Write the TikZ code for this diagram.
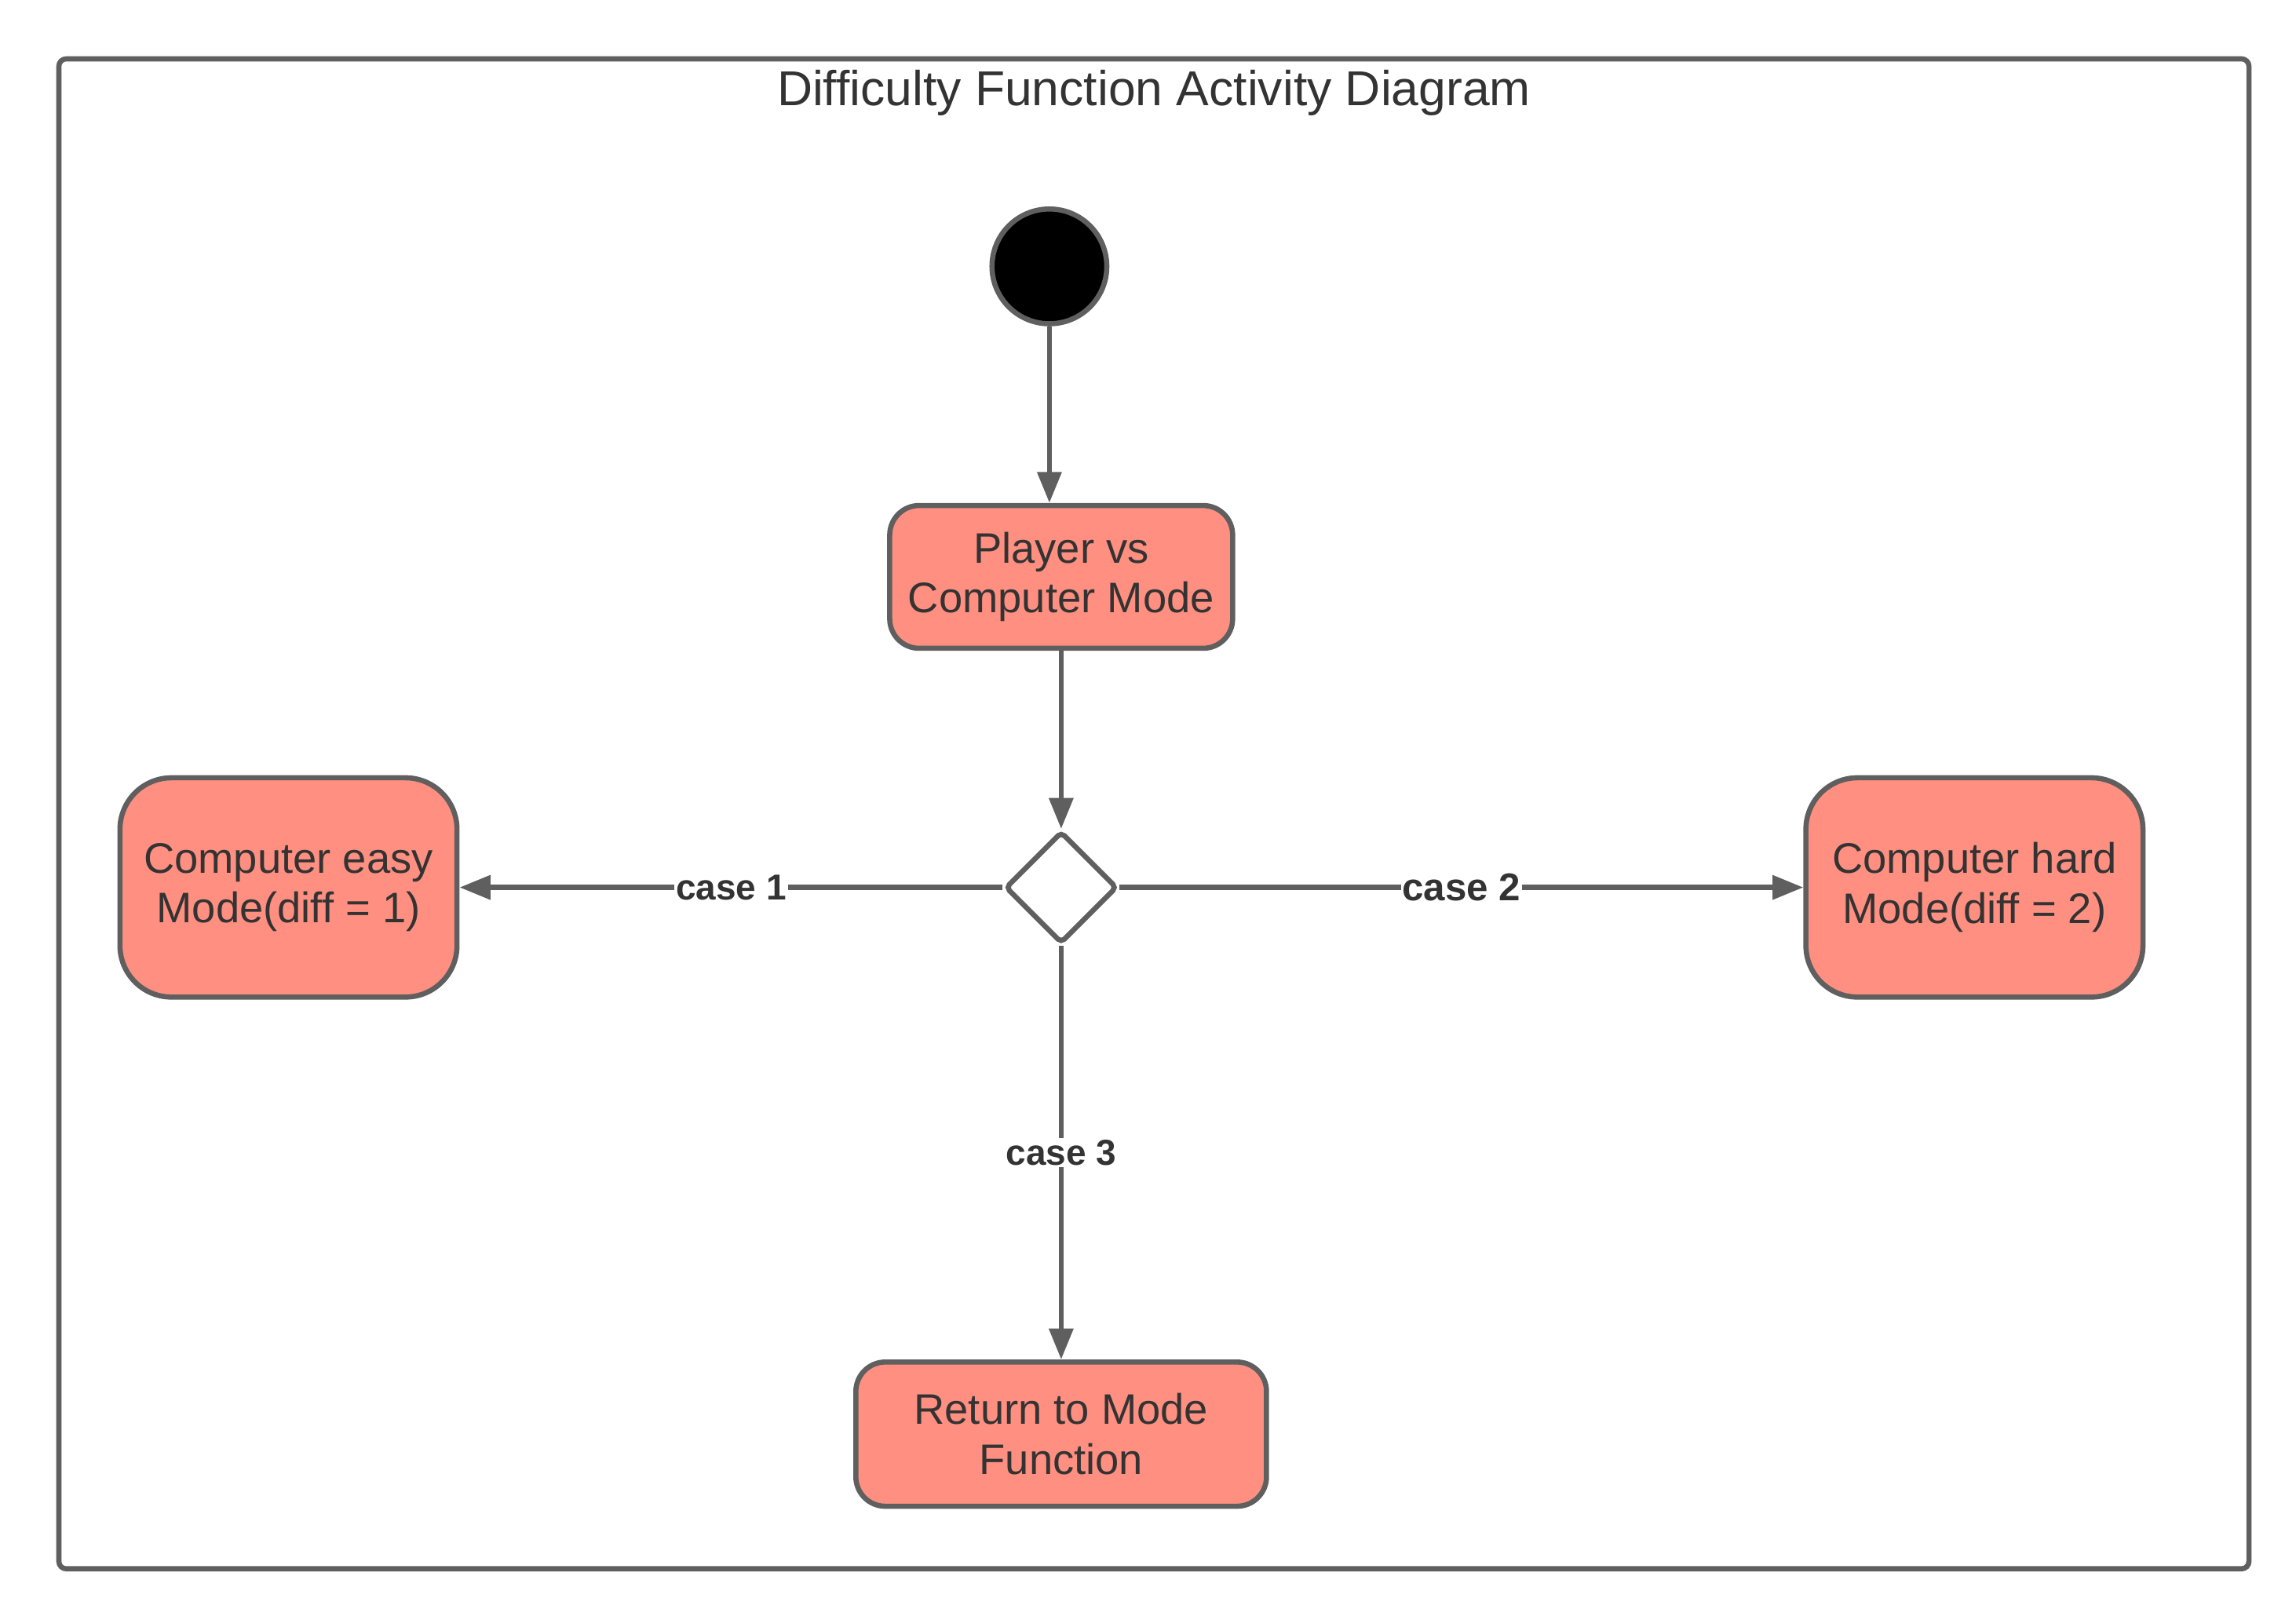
\documentclass[tikz,border=0pt]{standalone}
\usepackage{fontspec}
\setmainfont{Liberation Sans}
\usetikzlibrary{arrows.meta,shapes.geometric}
\definecolor{edge}{HTML}{5F5F5F}
\definecolor{salmon}{HTML}{FF8F80}
\definecolor{txt}{HTML}{333333}
\begin{document}
\begin{tikzpicture}[x=1pt,y=-1pt,
  activity/.style={draw=edge, line width=3.5pt, fill=salmon, rounded corners=20pt,
    align=center, text=txt, font=\fontsize{29}{34}\selectfont, inner sep=0pt},
  conn/.style={draw=edge, line width=3.5pt, -{Triangle[length=21pt,width=16pt]}},
  caselbl/.style={fill=white, text=txt, font=\bfseries\fontsize{24.5}{27}\selectfont, inner sep=1pt}]
\useasboundingbox (0,0) rectangle (1560,1100.3);
\node[draw=edge, line width=3.5pt, rounded corners=5pt, minimum width=1488pt, minimum height=1026pt, inner sep=0pt] (frame) at (784,553) {};
\node[text=txt, font=\fontsize{33.3}{38}\selectfont] (title) at (784,63) {Difficulty Function Activity Diagram};
\node[circle, draw=edge, line width=3.5pt, fill=black, minimum size=78pt, inner sep=0pt] (start) at (713,181) {};
\node[activity, minimum width=233pt, minimum height=97pt] (pvc) at (721,392) {Player vs\\Computer Mode};
\node[diamond, aspect=1, draw=edge, line width=3.5pt, fill=white, rounded corners=3pt, minimum size=76pt, inner sep=0pt] (dec) at (721,603) {};
\node[activity, rounded corners=35pt, minimum width=229pt, minimum height=149pt] (easy) at (196,603) {Computer easy\\Mode(diff = 1)};
\node[activity, rounded corners=35pt, minimum width=229pt, minimum height=149pt] (hard) at (1341.5,603) {Computer hard\\Mode(diff = 2)};
\node[activity, minimum width=279pt, minimum height=98pt] (ret) at (721,974.5) {Return to Mode\\Function};
\draw[conn] (start) -- (start |- pvc.north);
\draw[conn] (pvc) -- (dec);
\draw[conn] (dec.west) -- node[caselbl] {case 1} (easy.east);
\draw[conn] (dec.east) -- node[caselbl, font=\bfseries\fontsize{26.3}{29}\selectfont] {case 2} (hard.west);
\draw[conn] (dec.south) -- node[caselbl] {case 3} (ret.north);
\end{tikzpicture}
\end{document}
